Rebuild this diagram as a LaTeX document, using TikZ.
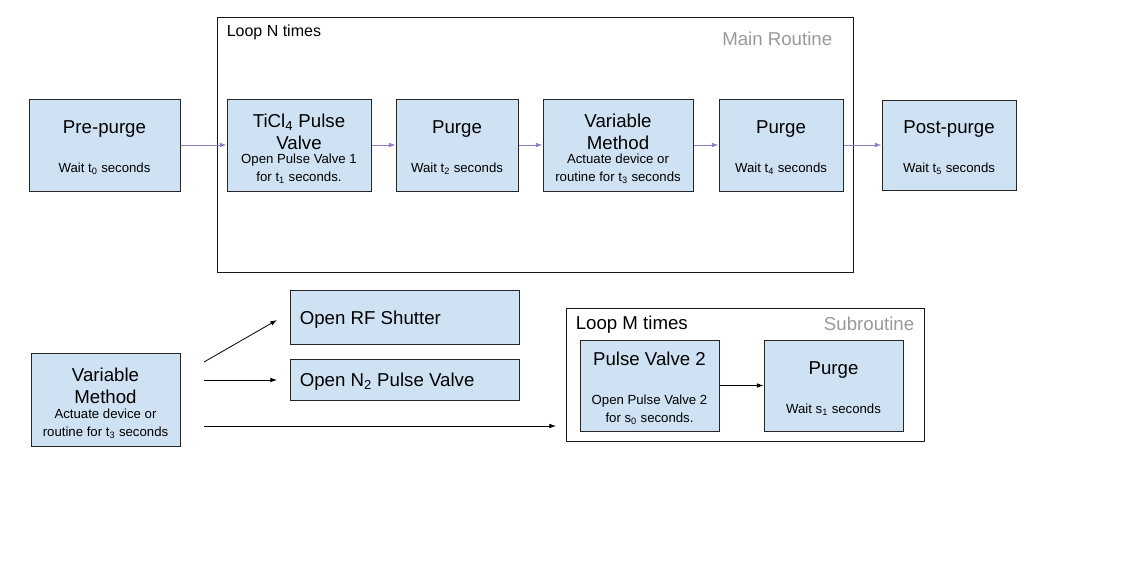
\documentclass[tikz,border=0pt]{standalone}
\usepackage{fontspec}
\setmainfont{Liberation Sans}
\usetikzlibrary{calc}
\usetikzlibrary{positioning}
\usetikzlibrary{arrows.meta}
\definecolor{boxblue}{HTML}{CFE2F3}
\definecolor{flowpurple}{HTML}{8E7CC3}
\definecolor{routinegray}{HTML}{999999}
\tikzset{
  boxsize/.style 2 args={minimum width=#1*0.75pt, minimum height=#2*0.75pt},
  stagebox/.style={draw=black!85, fill=boxblue, line width=0.75pt, inner sep=0pt},
  looparea/.style={draw=black!90, line width=0.75pt, inner sep=0pt},
  ttl/.style={font=\fontsize{14}{16.5}\selectfont, align=center, inner sep=0pt, yshift=-1.5pt},
  subtxt/.style={font=\fontsize{9.9}{13.5}\selectfont, align=center, inner sep=0pt, yshift=-1.5pt},
  flow/.style={-{Latex[length=5pt,width=3.5pt]}, flowpurple, line width=0.6pt},
  link/.style={-{Latex[length=5pt,width=3.5pt]}, black, line width=0.6pt},
}

\begin{document}
\begin{tikzpicture}[x=0.75pt,y=-0.75pt]
    \useasboundingbox (0,0) rectangle (1131,569);
    %main routine
    \node[looparea, boxsize={636}{255}] (mainloop) at (535,144.5) {};
    \node[anchor=west, inner sep=0pt, font=\fontsize{12}{14}\selectfont] at ($(mainloop.north west)+(10,16)$) {Loop N times};
    \node[anchor=east, inner sep=0pt, routinegray, font=\fontsize{14}{16}\selectfont] at ($(mainloop.north east)+(-21,22)$) {Main Routine};
    \node[stagebox, boxsize={151}{92}] (pre) at (104.5,145) {};
    \node[stagebox, boxsize={144}{92}] (ticl) at (299,145) {};
    \node[stagebox, boxsize={122}{92}] (purgeA) at (457,145) {};
    \node[stagebox, boxsize={150}{92}] (var) at (618,145) {};
    \node[stagebox, boxsize={124}{92}] (purgeB) at (781,145) {};
    \node[stagebox, boxsize={134}{90}] (post) at (949,145) {};
    \node[ttl] at ($(pre)+(0,-18)$) {Pre-purge};
    \node[subtxt] at ($(pre)+(0,22)$) {Wait t\textsubscript{0} seconds};
    \node[ttl] at ($(ticl)+(0,-15)$) {TiCl\textsubscript{4} Pulse\\Valve};
    \node[subtxt] at ($(ticl)+(0,22)$) {Open Pulse Valve 1\\for t\textsubscript{1} seconds.};
    \node[ttl] at ($(purgeA)+(0,-18)$) {Purge};
    \node[subtxt] at ($(purgeA)+(0,22)$) {Wait t\textsubscript{2} seconds};
    \node[ttl] at ($(var)+(0,-15)$) {Variable\\Method};
    \node[subtxt] at ($(var)+(0,22)$) {Actuate device or\\routine for t\textsubscript{3} seconds};
    \node[ttl] at ($(purgeB)+(0,-18)$) {Purge};
    \node[subtxt] at ($(purgeB)+(0,22)$) {Wait t\textsubscript{4} seconds};
    \node[ttl] at ($(post)+(0,-18)$) {Post-purge};
    \node[subtxt] at ($(post)+(0,22)$) {Wait t\textsubscript{5} seconds};
    \draw[flow] (pre) -- (ticl);
    \draw[flow] (ticl) -- (purgeA);
    \draw[flow] (purgeA) -- (var);
    \draw[flow] (var) -- (purgeB);
    \draw[flow] (purgeB) -- (post);
    %variable method
    \node[stagebox, boxsize={149}{93}] (var2) at (105.5,399.5) {};
    \node[ttl] at ($(var2)+(0,-15.5)$) {Variable\\Method};
    \node[subtxt] at ($(var2)+(0,22.5)$) {Actuate device or\\routine for t\textsubscript{3} seconds};
    \node[stagebox, boxsize={229}{54}] (rf) at (404.5,317) {};
    \node[ttl, anchor=west] at ($(rf.west)+(10,1)$) {Open RF Shutter};
    \node[stagebox, boxsize={229}{41}] (ntwo) at (404.5,379.5) {};
    \node[ttl, anchor=west] at ($(ntwo.west)+(10,0.5)$) {Open N\textsubscript{2} Pulse Valve};
    %subroutine
    \node[looparea, boxsize={358}{133}] (subloop) at (745,374.5) {};
    \node[anchor=west, inner sep=0pt, font=\fontsize{14}{16}\selectfont] at ($(subloop.north west)+(10,17)$) {Loop M times};
    \node[anchor=east, inner sep=0pt, routinegray, font=\fontsize{14}{16}\selectfont] at ($(subloop.north east)+(-10,16)$) {Subroutine};
    \node[stagebox, boxsize={139}{91}] (pvtwo) at (649.5,385.5) {};
    \node[ttl] at ($(pvtwo)+(0,-28.5)$) {Pulse Valve 2};
    \node[subtxt] at ($(pvtwo)+(0,22.5)$) {Open Pulse Valve 2\\for s\textsubscript{0} seconds.};
    \node[stagebox, boxsize={139}{91}] (purgeC) at (833.5,385.5) {};
    \node[ttl] at ($(purgeC)+(0,-17.5)$) {Purge};
    \node[subtxt] at ($(purgeC)+(0,22.5)$) {Wait s\textsubscript{1} seconds};
    \draw[link] (pvtwo) -- (purgeC);
    \coordinate (fromA) at (204,362);
    \coordinate (toA) at (277,320);
    \coordinate (fromB) at (204,380);
    \coordinate (toB) at (277,380);
    \coordinate (fromC) at (204,426);
    \coordinate (toC) at (556,426);
    \draw[link] (fromA) -- (toA);
    \draw[link] (fromB) -- (toB);
    \draw[link] (fromC) -- (toC);
\end{tikzpicture}
\end{document}
